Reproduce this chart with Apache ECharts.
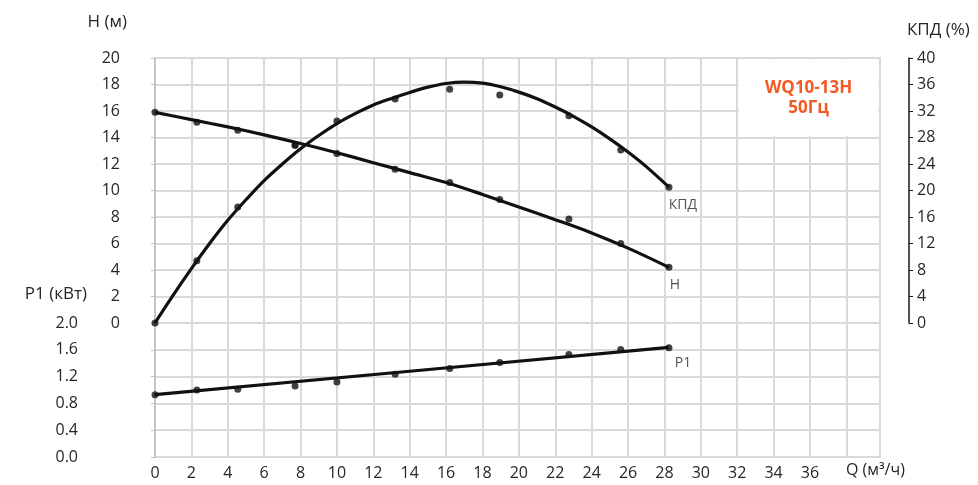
<!DOCTYPE html>
<html>
<head>
<meta charset="utf-8">
<script src="https://cdn.jsdelivr.net/npm/echarts@6/dist/echarts.min.js"></script>
<style>
  html, body { margin: 0; padding: 0; background: #fff; }
  #chart { width: 978px; height: 485px; }
</style>
</head>
<body>
<div id="chart"></div>
<script>
// ---- measured points (dots) ----
const qPoints     = [0, 2.3, 4.55, 7.7, 10, 13.2, 16.2, 18.95, 22.75, 25.6, 28.25];
const headPoints  = [15.9, 15.15, 14.55, 13.45, 12.8, 11.6, 10.6, 9.33, 7.85, 6.0, 4.2];
const effPoints   = [0, 9.4, 17.5, 26.8, 30.5, 33.8, 35.3, 34.4, 31.3, 26.1, 20.5];
const powerPoints = [0.93, 1.0, 1.01, 1.06, 1.12, 1.235, 1.32, 1.41, 1.53, 1.605, 1.63];

// ---- fitted curves ----
const qHeadCurve = [0, 2, 4, 6, 8, 10, 12, 14, 16, 18, 20, 22, 24, 26, 28.25];
const headCurve  = [15.9, 15.35, 14.8, 14.2, 13.55, 12.85, 12.1, 11.35, 10.6, 9.7, 8.75, 7.8, 6.8, 5.65, 4.2];
const qEffCurve  = [0, 1, 2, 3, 4, 5, 6, 7, 8, 9, 10, 11, 12, 13, 14, 15, 16, 17, 18, 19, 20, 21, 22, 23, 24, 25, 26, 27, 28.25];
const effCurve   = [0, 4.2, 8.2, 12.0, 15.5, 18.6, 21.5, 24.0, 26.3, 28.3, 30.1, 31.6, 32.9, 33.9, 34.8,
                    35.6, 36.15, 36.35, 36.2, 35.65, 34.85, 33.85, 32.6, 31.2, 29.6, 27.8, 25.8, 23.6, 20.5];
const qPowerLine = [0, 14, 28.25];
const powerLine  = [0.93, 1.28, 1.635];

// ---- axis ticks ----
const qTicks    = [0, 2, 4, 6, 8, 10, 12, 14, 16, 18, 20, 22, 24, 26, 28, 30, 32, 34, 36];
const headTicks = [0, 2, 4, 6, 8, 10, 12, 14, 16, 18, 20];
const effTicks  = [0, 4, 8, 12, 16, 20, 24, 28, 32, 36, 40];
const powerTicks = [0.0, 0.4, 0.8, 1.2, 1.6, 2.0];

// ---- texts ----
const modelTitle = 'WQ10-13H\n50Гц';
const seriesNames = { head: 'H', eff: 'КПД', power: 'P1' };
const axisNames = { q: 'Q (м³/ч)', head: 'H (м)', eff: 'КПД (%)', power: 'P1 (кВт)' };
// title box (in data units of Q and H)
const titleBoxQ = [32, 40];
const titleBoxH = [14, 20];

const Q_MAX = 39.85;
const FONT = 'Open Sans';
const TXT = '#262626';
const GRIDC = '#d9d9d9';

function zip(xs, ys) { return xs.map((x, i) => [x, ys[i]]); }
function withEndLabel(pairs, text, offset) {
  return pairs.map((p, i) => i === pairs.length - 1
    ? { value: p, label: { show: true, formatter: text, position: 'bottom', offset: offset,
        color: TXT, fontFamily: FONT, fontSize: 14 } }
    : p);
}
function nameText(text, x, y, align) {
  return { type: 'text', x: x, y: y, silent: true,
    style: { text: text, fill: TXT, font: '17px "' + FONT + '"', align: align, verticalAlign: 'middle' } };
}

const chart = echarts.init(document.getElementById('chart'), null, { renderer: 'canvas' });

const xAxisCommon = {
  type: 'value', min: 0, max: Q_MAX, interval: 2,
  splitLine: { show: true, lineStyle: { color: GRIDC, width: 2 } },
  axisLine: { show: false }, axisTick: { show: false }
};

const option = {
  animation: false,
  backgroundColor: '#fff',
  textStyle: { fontFamily: FONT },
  grid: [
    { left: 155, top: 58, width: 725, height: 265, show: true, borderColor: GRIDC, borderWidth: 2, containLabel: false },
    { left: 155, top: 323, width: 725, height: 134, show: true, borderColor: GRIDC, borderWidth: 2, containLabel: false }
  ],
  xAxis: [
    Object.assign({}, xAxisCommon, { gridIndex: 0, axisLabel: { show: false } }),
    Object.assign({}, xAxisCommon, {
      gridIndex: 1,
      axisLabel: {
        show: true, margin: 8, color: TXT, fontFamily: FONT, fontSize: 16,
        formatter: v => (qTicks.indexOf(v) >= 0 ? String(v) : '')
      }
    })
  ],
  yAxis: [
    {
      type: 'value', gridIndex: 0, position: 'left', offset: 30,
      min: headTicks[0], max: headTicks[headTicks.length - 1], interval: 2,
      axisLine: { show: true, lineStyle: { color: '#bfbfbf', width: 1.5 } },
      axisTick: { show: true, length: 4, lineStyle: { color: '#bfbfbf' } },
      axisLabel: { color: TXT, fontFamily: FONT, fontSize: 16, margin: 5 },
      splitLine: { show: true, lineStyle: { color: GRIDC, width: 2 } }
    },
    {
      type: 'value', gridIndex: 0, position: 'right', offset: 29,
      min: effTicks[0], max: effTicks[effTicks.length - 1], interval: 4,
      axisLine: { show: true, lineStyle: { color: '#1a1a1a', width: 1.5 } },
      axisTick: { show: true, length: 4, lineStyle: { color: '#1a1a1a' } },
      axisLabel: { color: TXT, fontFamily: FONT, fontSize: 16, margin: 8 },
      splitLine: { show: false }
    },
    {
      type: 'value', gridIndex: 1, position: 'left', offset: 71,
      min: powerTicks[0], max: powerTicks[powerTicks.length - 1], interval: 0.4,
      axisLine: { show: true, lineStyle: { color: '#bfbfbf', width: 1.5 } },
      axisTick: { show: true, length: 4, lineStyle: { color: '#bfbfbf' } },
      axisLabel: { color: TXT, fontFamily: FONT, fontSize: 16, margin: 6, formatter: v => v.toFixed(1) },
      splitLine: { show: true, lineStyle: { color: GRIDC, width: 2 } }
    }
  ],
  graphic: [
    { type: 'text', left: 846, top: 462, silent: true,
      style: { text: axisNames.q, fill: TXT, font: '16px "' + FONT + '"' } },
    nameText(axisNames.head, 127, 22, 'right'),
    nameText(axisNames.eff, 907, 30, 'left'),
    nameText(axisNames.power, 87, 294, 'right')
  ],
  series: [
    {
      name: 'box', type: 'line', xAxisIndex: 0, yAxisIndex: 0, data: [], silent: true,
      markArea: {
        silent: true,
        itemStyle: { color: '#ffffff', opacity: 1 },
        label: { show: true, position: 'inside', formatter: modelTitle, color: '#f15a22',
          fontFamily: FONT, fontWeight: 'bold', fontSize: 17, lineHeight: 20 },
        data: [[
          { coord: [titleBoxQ[0] + 0.09, titleBoxH[1] - 0.09] },
          { coord: [Q_MAX - 0.09, titleBoxH[0] + 0.09] }
        ]]
      }
    },
    {
      name: seriesNames.head, type: 'line', xAxisIndex: 0, yAxisIndex: 0,
      data: zip(qHeadCurve, headCurve), smooth: 0.35, showSymbol: false,
      lineStyle: { color: '#111', width: 3.2 }, z: 3
    },
    {
      name: seriesNames.head + ' pts', type: 'scatter', xAxisIndex: 0, yAxisIndex: 0,
      data: withEndLabel(zip(qPoints, headPoints), seriesNames.head, [6, 2]),
      symbol: 'circle', symbolSize: 7, itemStyle: { color: '#111' }, z: 4
    },
    {
      name: seriesNames.eff, type: 'line', xAxisIndex: 0, yAxisIndex: 1,
      data: zip(qEffCurve, effCurve), smooth: 0.35, showSymbol: false,
      lineStyle: { color: '#111', width: 3.2 }, z: 3
    },
    {
      name: seriesNames.eff + ' pts', type: 'scatter', xAxisIndex: 0, yAxisIndex: 1,
      data: withEndLabel(zip(qPoints, effPoints), seriesNames.eff, [14, 2]),
      symbol: 'circle', symbolSize: 7, itemStyle: { color: '#111' }, z: 4
    },
    {
      name: seriesNames.power, type: 'line', xAxisIndex: 1, yAxisIndex: 2,
      data: zip(qPowerLine, powerLine), showSymbol: false,
      lineStyle: { color: '#111', width: 3.2 }, z: 3
    },
    {
      name: seriesNames.power + ' pts', type: 'scatter', xAxisIndex: 1, yAxisIndex: 2,
      data: withEndLabel(zip(qPoints, powerPoints), seriesNames.power, [14, 0]),
      symbol: 'circle', symbolSize: 7, itemStyle: { color: '#111' }, z: 4
    }
  ]
};

chart.setOption(option);
</script>
</body>
</html>
